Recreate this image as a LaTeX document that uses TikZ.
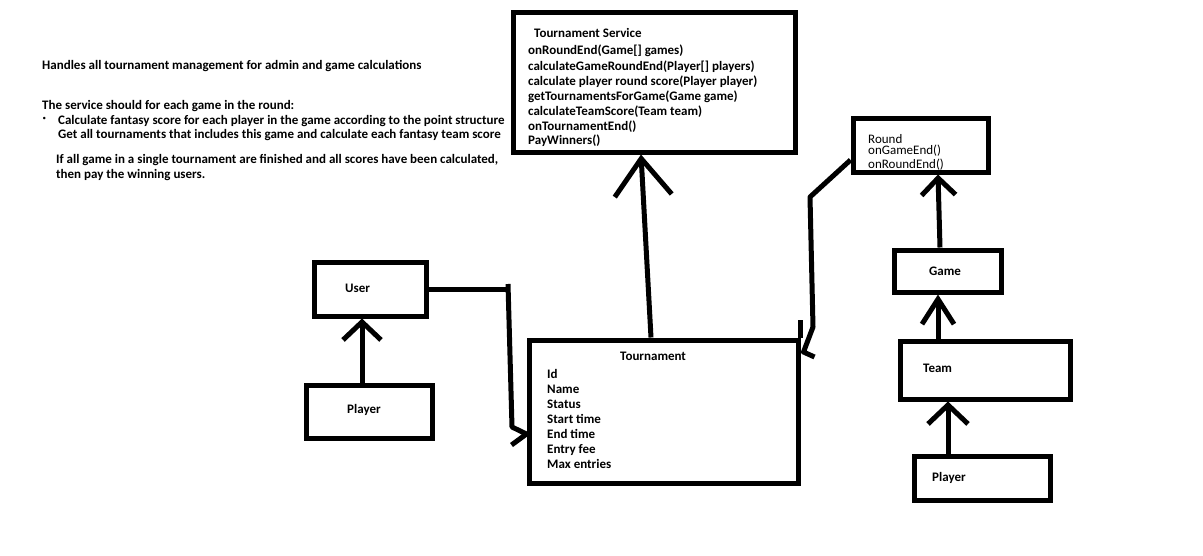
\documentclass[tikz,border=0pt]{standalone}
\usepackage{fontspec}
\setmainfont{Carlito}
\usetikzlibrary{arrows.meta}
\begin{document}
\begin{tikzpicture}[x=1pt,y=-1pt,
  box/.style={draw, line width=5pt, rectangle, inner sep=0pt},
  lbl/.style={anchor=base west, inner sep=0pt, font=\fontsize{13}{15}\selectfont\bfseries},
  rlbl/.style={anchor=base west, inner sep=0pt, font=\fontsize{13}{15}\selectfont},
  conn/.style={line width=5pt, line join=round},
]
\useasboundingbox[fill=white] (0,0) rectangle (1203,555);

% boxes
\node[box, minimum width=282pt, minimum height=140pt] (ts) at (654,82) {};
\node[box, minimum width=135pt, minimum height=54pt] (round) at (920.5,145) {};
\node[box, minimum width=107pt, minimum height=42pt] (game) at (947.5,271) {};
\node[box, minimum width=170pt, minimum height=58pt] (team) at (985,370) {};
\node[box, minimum width=136pt, minimum height=44pt] (player2) at (982,478) {};
\node[box, minimum width=112pt, minimum height=54pt] (user) at (370,289) {};
\node[box, minimum width=126pt, minimum height=53pt] (player1) at (369,411.5) {};
\node[box, minimum width=269pt, minimum height=143pt] (tour) at (663.5,411.5) {};

% left text
\node[lbl] (t1) at (42,69) {Handles all tournament management for admin and game calculations};
\node[lbl] (t2) at (42,109) {The service should for each game in the round:};
\node[lbl, font=\fontsize{7}{7}\selectfont] (bul) at (42.5,120) {•};
\node[lbl] (t3) at (58,124.5) {Calculate fantasy score for each player in the game according to the point structure};
\node[lbl] (t4) at (58,138) {Get all tournaments that includes this game and calculate each fantasy team score};
\node[lbl] (t5) at (56,163.5) {If all game in a single tournament are finished and all scores have been calculated,};
\node[lbl] (t6) at (56,178.5) {then pay the winning users.};

% tournament service text
\node[lbl] (tst) at (534,37) {Tournament Service};
\node[lbl] (m1) at (528,54) {onRoundEnd(Game[] games)};
\node[lbl] (m2) at (528,70) {calculateGameRoundEnd(Player[] players)};
\node[lbl] (m3) at (528,85.5) {calculate player round score(Player player)};
\node[lbl] (m4) at (528,100.5) {getTournamentsForGame(Game game)};
\node[lbl] (m5) at (528,115) {calculateTeamScore(Team team)};
\node[lbl] (m6) at (528,130) {onTournamentEnd()};
\node[lbl] (m7) at (528,144.5) {PayWinners()};

% round text
\node[rlbl] (rt) at (868,143) {Round};
\node[rlbl] (r1t) at (868,154) {onGameEnd()};
\node[rlbl] (r2t) at (868,168) {onRoundEnd()};

% other labels
\node[lbl] (gt) at (929,275) {Game};
\node[lbl] (tt) at (923,372) {Team};
\node[lbl] (p2t) at (932,481) {Player};
\node[lbl] (ut) at (345,292) {User};
\node[lbl] (p1t) at (347,413) {Player};

% tournament text
\node[lbl] (tot) at (620,360) {Tournament};
\node[lbl] (f1) at (547,378.5) {Id};
\node[lbl] (f2) at (547,393.5) {Name};
\node[lbl] (f3) at (547,408.5) {Status};
\node[lbl] (f4) at (547,423.5) {Start time};
\node[lbl] (f5) at (547,438.5) {End time};
\node[lbl] (f6) at (547,453.5) {Entry fee};
\node[lbl] (f7) at (547,468.5) {Max entries};

% connectors
\draw[conn, -{Straight Barb[length=18pt,width=38pt]}] ([xshift=-7pt]player1.north) -- ([xshift=-8pt]user.south);
\draw[conn, -{Straight Barb[length=25pt,width=32pt]}] ([xshift=-47pt]team.north) -- ([xshift=-9.5pt]game.south);
\draw[conn, -{Straight Barb[length=17pt,width=34pt]}] ([xshift=-7.5pt]game.north) -- ([xshift=17.5pt]round.south);
\draw[conn, -{Straight Barb[length=19pt,width=40pt]}] ([xshift=-34pt]player2.north) -- ([xshift=-37pt]team.south);
\draw[conn, -{Straight Barb[length=37pt,width=57pt]}] ([xshift=-12.5pt]tour.north) -- ([xshift=-13pt]ts.south);

% User -> Tournament (hand-drawn head: shaft bends into upper arm)
\coordinate (u0) at (508,284);
\coordinate (u1) at (508,289);
\coordinate (u2) at (512,427);
\coordinate (u3) at (527,434);
\draw[conn] (user.east) -- (u1);
\draw[conn] (u0) -- (u2) -- (tour.west |- u3) -- ++(-15,11);

% Round -> Tournament
\coordinate (rb1) at (810,197);
\coordinate (rb2) at (813,327);
\coordinate (rb3) at (801,352);
\draw[conn] ([yshift=-15pt]round.west) -- (rb1) -- (rb2) -- ([xshift=3pt]tour.east |- rb3) -- ++(11,5);
\draw[conn] (tour.north east) -- ++(0,-18);
\end{tikzpicture}
\end{document}
